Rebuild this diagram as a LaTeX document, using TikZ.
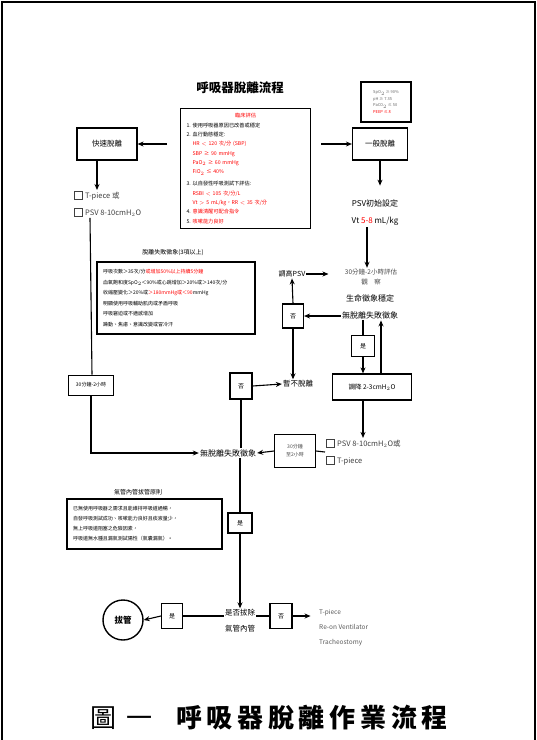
\documentclass[tikz,border=0pt]{standalone}
\usepackage{fontspec}
\setmainfont{Noto Sans CJK TC}
\usetikzlibrary{arrows.meta}

\newcommand{\chkbox}{{\setlength{\fboxrule}{1pt}\setlength{\fboxsep}{0pt}\raisebox{-0.5pt}{\fbox{\rule{0pt}{6.5pt}\hspace{6.5pt}}}}\hspace{2.5pt}}

\tikzset{
  box/.style={draw, line width=1.2pt, inner sep=2pt, align=center},
  ynbox/.style={draw, line width=1.1pt, minimum width=21, minimum height=24, inner sep=0pt, font=\fontsize{6}{7}\selectfont},
  plain/.style={inner sep=1pt, align=center},
  note/.style={draw, line width=1.1pt, align=left, inner sep=4pt},
  flow/.style={line width=1.1pt},
}

\begin{document}
\begin{tikzpicture}[>={Stealth[length=6pt,width=5pt]}, x=1pt, y=-1pt]
  \useasboundingbox (0,0) rectangle (537,740);

  % Marco
  \draw[line width=1.6pt] (2,760) -- (2,2) -- (535,2) -- (535,760);

  % Titulo
  \node[plain, font=\fontsize{12.5}{14}\selectfont\bfseries] (title) at (240,88) {呼吸器脫離流程};

  % Evaluacion clinica
  \node[note, minimum width=130, minimum height=120, text width=118, anchor=north west,
        font=\fontsize{5.2}{9.3}\selectfont] (eval) at (180,108) {%
    \centerline{\textcolor{red}{臨床評估}}
    1.\ 使用呼吸器原因已改善或穩定\\
    2.\ 血行動態穩定:\\
    \hspace*{6pt}\textcolor{red}{HR $<$ 120 次/分 (SBP)}\\
    \hspace*{6pt}\textcolor{red}{SBP ≥ 90 mmHg}\\
    \hspace*{6pt}\textcolor{red}{PaO$_2$ ≥ 60 mmHg}\\
    \hspace*{6pt}\textcolor{red}{FiO$_2$ ≤ 40\%}\\[3pt]
    3.\ 以自發性呼吸測試下評估:\\
    \hspace*{6pt}\textcolor{red}{RSBI $<$ 105 次/分/L}\\
    \hspace*{6pt}\textcolor{red}{Vt $>$ 5 mL/kg，RR $<$ 35 次/分}\\
    4.\ \textcolor{red}{意識清醒可配合指令}\\
    5.\ \textcolor{red}{咳嗽能力良好}};

  % Criterios (arriba derecha)
  \node[note, minimum width=50, minimum height=40, inner sep=3pt, align=left,
        font=\fontsize{4}{6.5}\selectfont] (crit) at (386,102) {%
    \textcolor{black!60}{SpO$_2$ ≥ 90\%}\\ \textcolor{black!60}{pH ≥ 7.35}\\ \textcolor{black!60}{PaCO$_2$ ≤ 50}\\ \textcolor{red}{PEEP ≤ 8}};

  % Ramas superiores
  \node[box, minimum width=60, minimum height=32, font=\fontsize{7.5}{9}\selectfont] (fast) at (107,144) {快速脫離};
  \node[box, minimum width=55, minimum height=32, font=\fontsize{7.5}{9}\selectfont] (general) at (380,144) {一般脫離};
  \draw[flow, ->, shorten <=13pt] (eval.west |- fast.east) -- (fast.east);
  \draw[flow, ->, shorten <=10pt] (eval.east |- general.west) -- (general.west);

  % Rama rapida
  \node[plain, anchor=north west, align=left, text=black!75, font=\fontsize{7.5}{17}\selectfont] (opt1) at (73,190) {%
    \chkbox T-piece 或\\ \chkbox PSV 8-10cmH$_2$O};
  \draw[flow, ->] ([xshift=-10]fast.south) -- ([xshift=-10]fast.south |- opt1.north);
  \node[box, minimum width=45, minimum height=20, line width=0.9pt, font=\fontsize{5}{6}\selectfont] (wait1) at (91,385) {30分鐘-2小時};

  % Rama general
  \node[plain, font=\fontsize{8}{17}\selectfont] (psvset) at (375,213) {PSV初始設定\\ Vt \textcolor{red}{5-8} mL/kg};
  \draw[flow, ->] (general.south) -- ++(0,25);
  \node[plain, text=black!70, font=\fontsize{6.5}{10}\selectfont] (obs1) at (371,277) {30分鐘-2小時評估\\ 觀\quad 察};
  \node[plain, font=\fontsize{8}{17}\selectfont] (obs2) at (370,307) {生命徵象穩定\\ 無脫離失敗徵象};
  \draw[flow, ->] ([xshift=-8]psvset.south) -- ([xshift=-8]psvset.south |- obs1.north);

  \node[plain, font=\fontsize{7}{8}\selectfont] (up) at (292,274) {調高PSV};
  \node[ynbox] (no1) at (293,316) {否};
  \node[ynbox, minimum width=23, minimum height=21] (yes1) at (363,346) {是};
  \node[box, minimum width=79, minimum height=26, font=\fontsize{6.5}{8}\selectfont] (down) at (372,387) {調降 2-3cmH$_2$O};
  \node[plain, font=\fontsize{7.5}{9}\selectfont] (hold) at (298,384) {暫不脫離};

  \draw[flow, ->] (up.east) -- ++(22,0);
  \draw[flow, ->] (obs2.west |- no1.east) -- (no1.east);
  \draw[flow, ->] (no1.north) -- (up.south);
  \draw[flow, ->] (no1.south) -- (no1.south |- hold.north);
  \draw[flow] (yes1.north |- obs2.south) -- (yes1.north);
  \draw[flow, ->] (yes1.south) -- (yes1.south |- down.north);
  \draw[flow, ->] ([xshift=9]down.north) -- ([xshift=9]down.north |- obs2.south);

  \node[plain, anchor=west, align=left, text=black!75, font=\fontsize{7.5}{17}\selectfont] (opt2) at (325,452) {%
    \chkbox PSV 8-10cmH$_2$O或\\ \chkbox T-piece};
  \draw[flow, ->] (yes1.south |- down.south) -- (yes1.south |- opt2.north);
  \node[box, minimum width=41, minimum height=33, line width=0.9pt, text=black!70, font=\fontsize{5}{8}\selectfont] (wait2) at (295,451) {30分鐘\\至2小時};
  \draw[flow] (opt2.west) -- (wait2.east);

  % Centro
  \node[plain, fill=white, font=\fontsize{8}{9}\selectfont] (nofail) at (228,453) {無脫離失敗徵象};
  \node[ynbox, minimum width=22, minimum height=26] (no2) at (241,386) {否};
  \node[ynbox, minimum width=24, minimum height=20] (yes2) at (240,523) {是};
  \draw[flow, ->] (wait2.west) -- (nofail.east);
  \draw[flow, ->] (no2.east) -- (hold.west);
  \draw[flow] (no2.south) -- (no2.south |- nofail.north);
  \draw[flow] (yes2.north |- nofail.south) -- (yes2.north);

  % Linea izquierda
  \coordinate (lcorner) at (92,453);
  \draw[flow] ([xshift=-1]wait1.north |- opt1.south) -- ([xshift=1]wait1.north);
  \draw[flow, ->] (wait1.south) -- (wait1.south |- lcorner) -- (nofail.west);

  % Signos de fracaso
  \node[plain, font=\fontsize{6}{7}\selectfont] (failtitle) at (173,253) {脫離失敗徵象(3項以上)};
  \node[note, minimum width=158, minimum height=72, text width=146, font=\fontsize{5}{10.5}\selectfont] (failbox) at (176,298) {%
    呼吸次數＞35次/分\textcolor{red}{或增加50\%以上持續5分鐘}\\
    血氧飽和度SpO$_2$＜90\%或心跳增加＞20\%或＞140次/分\\
    收縮壓變化＞20\%或\textcolor{red}{＞180mmHg或＜90}mmHg\\
    明顯使用呼吸輔助肌肉或矛盾呼吸\\
    呼吸窘迫或不適感增加\\
    躁動、焦慮、意識改變或冒冷汗};

  % Principios de extubacion
  \node[plain, font=\fontsize{6}{7}\selectfont] (extitle) at (138,492) {氣管內管拔管原則};
  \node[note, minimum width=155, minimum height=50, text width=143, font=\fontsize{5}{10}\selectfont] (exbox) at (144.5,524) {%
    已無使用呼吸器之需求且能維持呼吸道通暢，\\
    自發呼吸測試成功、咳嗽能力良好且痰液量少，\\
    無上呼吸道阻塞之危險因素，\\
    呼吸道無水腫且漏氣測試陽性（氣囊漏氣）。};

  % Fila inferior
  \node[plain, font=\fontsize{7.5}{16}\selectfont] (ext) at (240,621) {是否拔除\\ 氣管內管};
  \draw[flow, ->] (yes2.south) -- (ext.north);
  \node[ynbox, minimum width=21, minimum height=25] (yes3) at (172,616) {是};
  \node[ynbox, minimum width=22, minimum height=25] (no3) at (281,616) {否};
  \node[circle, draw, line width=1.4pt, minimum size=40, inner sep=0pt, font=\fontsize{8.5}{10}\selectfont\bfseries] (extub) at (123,620) {拔管};
  \node[plain, anchor=west, align=left, text=black!65, font=\fontsize{6.5}{15}\selectfont] (res) at (318,628) {%
    T-piece\\ Re-on Ventilator\\ Tracheostomy};

  \draw[flow] (ext.west |- yes3.east) -- (yes3.east);
  \draw[flow, ->] (yes3.west) -- (extub.east);
  \draw[flow] (ext.east |- no3.west) -- (no3.west);
  \draw[flow, ->] (no3.east) -- ++(18,0);

  % Leyenda
  \node[plain, font=\fontsize{26}{28}\selectfont] (caption) at (269,718)
    {圖\hspace{10pt}一\hspace{24pt}{\bfseries\addfontfeatures{LetterSpace=18}呼吸器脫離作業流程}};
\end{tikzpicture}
\end{document}
